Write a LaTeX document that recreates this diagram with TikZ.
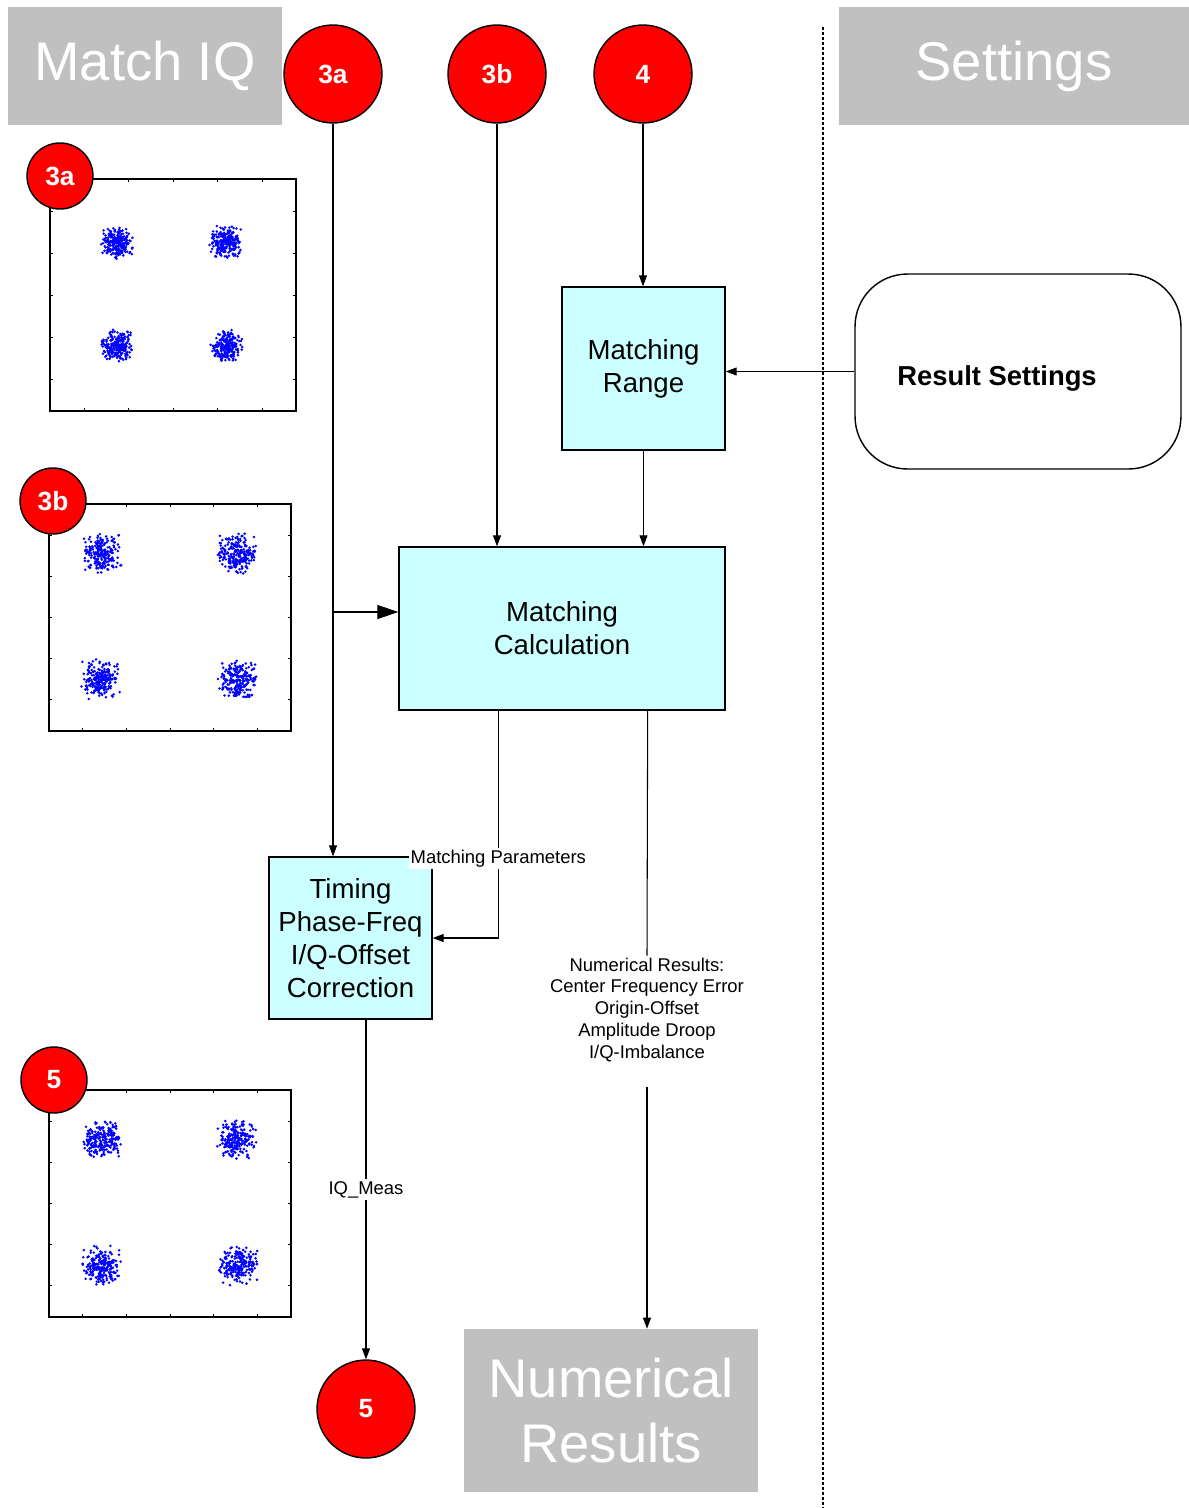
\documentclass[tikz,border=0pt]{standalone}
\usepackage{fontspec}
\setmainfont{Liberation Sans}
\usetikzlibrary{arrows.meta,calc}

\definecolor{headgray}{HTML}{C0C0C0}
\definecolor{blockcyan}{HTML}{CCFFFF}
\definecolor{iqblue}{HTML}{0000FF}

% one noisy constellation point
\newcommand\iqcloud[3]{%
  \foreach \k in {1,...,230}{%
    \pgfmathsetmacro\dx{(rand+rand)*#3}%
    \pgfmathsetmacro\dy{(rand+rand)*#3}%
    \fill[iqblue] (#1+\dx,#2+\dy) circle (0.028cm);
  }}
% inward ticks round a plot frame
\newcommand\iqticks[1]{%
  \foreach \t in {0.14,0.32,0.5,0.68,0.86}{%
    \draw ($(#1.north west)!\t!(#1.north east)$) -- ++(0,4);
    \draw ($(#1.south west)!\t!(#1.south east)$) -- ++(0,-4);
    \draw ($(#1.north west)!\t!(#1.south west)$) -- ++(4,0);
    \draw ($(#1.north east)!\t!(#1.south east)$) -- ++(-4,0);
  }}

\begin{document}
\begin{tikzpicture}[x=0.02cm, y=-0.02cm,
    header/.style={fill=headgray, text=white, inner sep=0pt, align=center,
      font=\fontsize{31}{37}\selectfont},
    marker/.style={circle, draw, line width=0.8pt, fill=red, text=white,
      inner sep=0pt, minimum size=1.96cm, font=\bfseries\fontsize{15}{18}\selectfont},
    smallmarker/.style={marker, minimum size=1.32cm},
    block/.style={draw, line width=0.8pt, fill=blockcyan, align=center,
      inner sep=0pt, font=\fontsize{15.7}{18.8}\selectfont},
    iqplot/.style={draw, line width=0.8pt, inner sep=0pt},
    flow/.style={-{Triangle[length=2.2mm,width=1.6mm]}, line width=0.6pt},
    bigflow/.style={-{Triangle[length=4.2mm,width=2.8mm]}, line width=0.6pt},
    lbl/.style={fill=white, inner sep=1pt, align=center,
      font=\fontsize{10.5}{12.5}\selectfont}]
  \useasboundingbox (0,0) rectangle (1189,1508);
  \pgfmathsetseed{11}

  % headers
  \node[header, minimum width=5.48cm, minimum height=2.36cm] (matchiq) at (145,66) {Match IQ};
  \node[header, minimum width=7cm, minimum height=2.36cm] (settings) at (1014,66) {Settings};
  \node[header, minimum width=5.88cm, minimum height=3.26cm] (numres) at (611,1410.5) {Numerical\\Results};

  \draw[line width=0.6pt, dash pattern=on 0.06cm off 0.04cm] (823,27) -- (823,1508);

  % constellation plots
  \node[iqplot, minimum width=4.92cm, minimum height=4.64cm] (plotA) at (173,295) {};
  \node[iqplot, minimum width=4.84cm, minimum height=4.54cm] (plotB) at (170,617.5) {};
  \node[iqplot, minimum width=4.84cm, minimum height=4.54cm] (plotC) at (170,1203.5) {};
  \iqticks{plotA}
  \iqticks{plotB}
  \iqticks{plotC}
  \iqcloud{117}{243}{8.5}
  \iqcloud{226}{242}{8.5}
  \iqcloud{117}{346}{8.5}
  \iqcloud{227}{346}{8.5}
  \iqcloud{102}{553}{10.5}
  \iqcloud{236}{553}{10.5}
  \iqcloud{101}{679}{10.5}
  \iqcloud{238}{679}{10.5}
  \iqcloud{102}{1139}{10.5}
  \iqcloud{236}{1139}{10.5}
  \iqcloud{101}{1265}{10.5}
  \iqcloud{238}{1265}{10.5}

  \node[smallmarker] (s3a) at (60,176) {3a};
  \node[smallmarker] (s3b) at (53,501) {3b};
  \node[smallmarker] (s5) at (54,1080) {5};

  % flow
  \node[marker] (m3a) at (333,74) {3a};
  \node[marker] (m3b) at (497,74) {3b};
  \node[marker] (m4) at (643,74) {4};
  \node[marker] (m5out) at (366,1409) {5};

  \node[block, minimum width=3.26cm, minimum height=3.26cm] (range) at (643.5,368.5) {Matching\\Range};
  \node[block, minimum width=6.52cm, minimum height=3.26cm] (calc) at (562,628.5) {Matching\\Calculation};
  \node[block, minimum width=3.26cm, minimum height=3.24cm] (timing) at (350.5,938) {Timing\\Phase-Freq\\I/Q-Offset\\Correction};
  \node[draw, line width=0.8pt, rounded corners=1.05cm, minimum width=6.52cm, minimum height=3.9cm] (rs) at (1018,371.5) {};
  \node[font=\bfseries\fontsize{15.6}{18}\selectfont] (rslabel) at (997,378) {Result Settings};

  \node[lbl] (numtext) at (647,1010) {Numerical Results:\\Center Frequency Error\\Origin-Offset\\Amplitude Droop\\I/Q-Imbalance};
  \coordinate (tap) at (333,612);
  \coordinate (numgap) at (647,1087);

  \draw[flow] (m3a.south) -- (m3a.south |- timing.north);
  \draw[bigflow] (tap) -- (tap -| calc.west);
  \draw[flow] (m3b.south) -- (m3b.south |- calc.north);
  \draw[flow] (m4.south) -- (m4.south |- range.north);
  \draw[flow] (range.south) -- (range.south |- calc.north);
  \draw[flow] (rs.west) -- (rs.west -| range.east);
  \draw[flow] ([xshift=2cm]calc.south west) |- (timing.east)
    node[lbl, pos=0.325] (mplbl) {Matching Parameters};
  \draw[line width=0.6pt] ([xshift=-1.56cm]calc.south east) -- (numtext.north);
  \draw[flow] (numgap) -- (numgap |- numres.north);
  \draw[flow] (m5out.north |- timing.south) -- (m5out.north)
    node[lbl, pos=0.5] (iqlbl) {IQ\_Meas};
\end{tikzpicture}
\end{document}
